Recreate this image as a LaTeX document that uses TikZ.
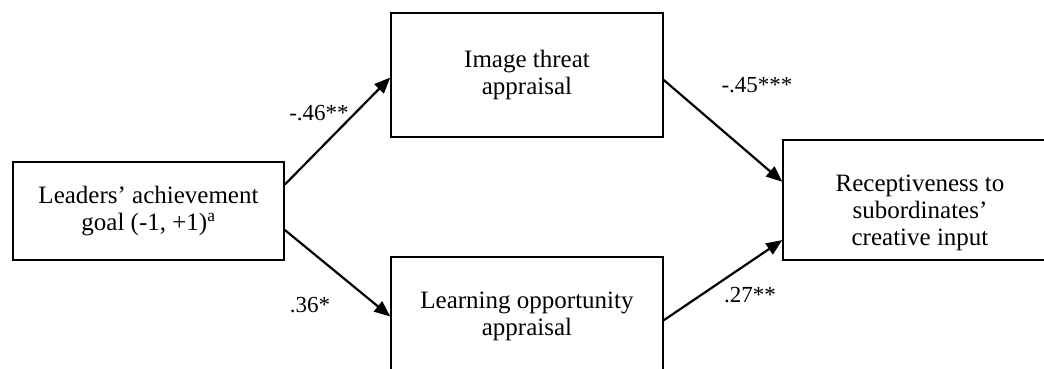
\documentclass[tikz,border=0pt]{standalone}
\usepackage{fontspec}
\setmainfont{Liberation Serif}
\usetikzlibrary{arrows.meta,calc}

\tikzset{
  box/.style={draw, line width=1.5pt, rectangle, align=center, inner sep=0pt,
    font=\fontsize{25}{27}\selectfont},
  boxtext/.style={align=center, inner sep=0pt, font=\fontsize{25}{27}\selectfont},
  effect/.style={-{Triangle[length=16pt,width=13pt]}, line width=2.2pt},
  coef/.style={inner sep=0pt, font=\fontsize{23}{27}\selectfont}
}

\begin{document}
\begin{tikzpicture}[x=1pt,y=-1pt]
    \useasboundingbox (0,0) rectangle (1044,369);
    \clip (0,0) rectangle (1044,369);
    % boxes
    \node[box, minimum width=271pt, minimum height=98pt] (lead) at (148.5,211)
        {Leaders’ achievement\\goal (-1, +1)\textsuperscript{a}};
    \node[box, minimum width=272pt, minimum height=124pt] (threat) at (527,75)
        {Image threat\\appraisal};
    \node[box, minimum width=272pt, minimum height=124pt] (learn) at (527,319) {};
    \node[boxtext] (learntext) at (527,316) {Learning opportunity\\appraisal};
    \node[box, minimum width=274pt, minimum height=120pt] (recv) at (920,200) {};
    \node[boxtext] (recvtext) at (920,213)
        {Receptiveness to\\subordinates’\\creative input};
    % paths
    \draw[effect] ($(lead.north east)!0.235!(lead.south east)$) -- ($(threat.north west)!0.52!(threat.south west)$);
    \draw[effect] ($(lead.north east)!0.69!(lead.south east)$) -- ($(learn.north west)!0.48!(learn.south west)$);
    \draw[effect] ($(threat.north east)!0.54!(threat.south east)$) -- ($(recv.north west)!0.35!(recv.south west)$);
    \draw[effect] ($(learn.north east)!0.51!(learn.south east)$) -- ($(recv.north west)!0.83!(recv.south west)$);
    % coefficients
    \node[coef] (c1) at (319,113) {-.46**};
    \node[coef] (c2) at (310,305) {.36*};
    \node[coef] (c3) at (757,85) {-.45***};
    \node[coef] (c4) at (750,295) {.27**};
\end{tikzpicture}
\end{document}
